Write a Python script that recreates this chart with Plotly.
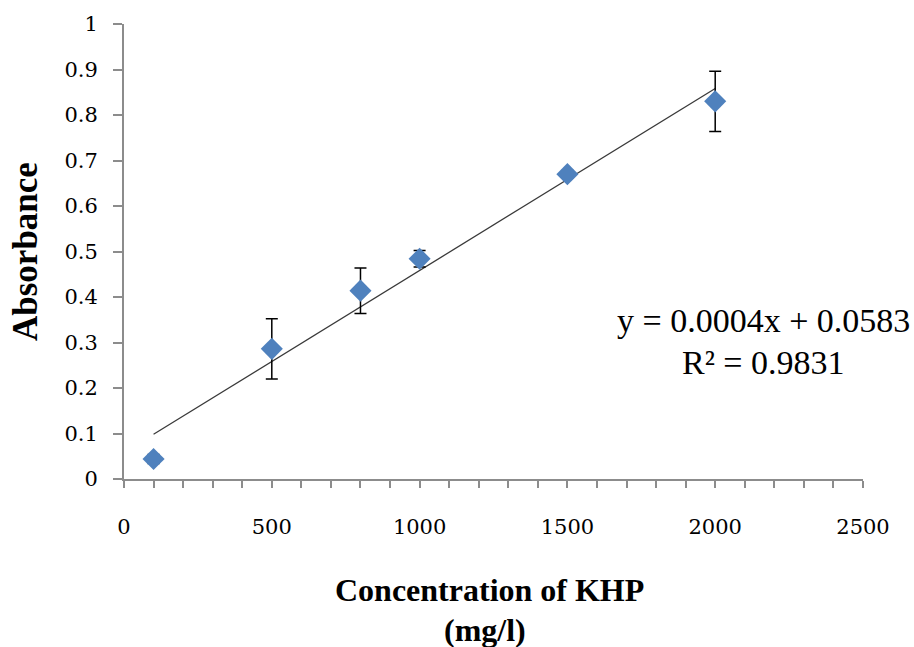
import plotly.graph_objects as go

# Data
concentration = [100, 500, 800, 1000, 1500, 2000]
absorbance = [0.044, 0.286, 0.414, 0.484, 0.670, 0.830]
abs_error = [0.010, 0.066, 0.050, 0.018, 0.008, 0.066]

# Trendline (as displayed)
slope = 0.0004
intercept = 0.0583
trend_x = [100, 2000]
trend_y = [slope * x + intercept for x in trend_x]

x_tick_vals = list(range(0, 2501, 100))
x_tick_text = [str(v) if v % 500 == 0 else "" for v in x_tick_vals]
y_tick_vals = [0, 0.1, 0.2, 0.3, 0.4, 0.5, 0.6, 0.7, 0.8, 0.9, 1]
y_tick_text = ["0", "0.1", "0.2", "0.3", "0.4", "0.5", "0.6", "0.7", "0.8", "0.9", "1"]

eq_text = "y = 0.0004x + 0.0583"
r2_text = "R² = 0.9831"

fig = go.Figure()
fig.add_trace(go.Scatter(
    x=trend_x, y=trend_y, mode="lines",
    line=dict(color="#3a3a3a", width=1.3),
    showlegend=False, hoverinfo="skip"))
fig.add_trace(go.Scatter(
    x=concentration, y=absorbance, mode="markers",
    marker=dict(symbol="diamond", size=17, color="#4F81BD"),
    error_y=dict(type="data", array=abs_error, visible=True,
                 color="black", thickness=1.5, width=6),
    showlegend=False))

axis_font = dict(family="DejaVu Serif", size=21, color="black")
fig.update_layout(
    width=914, height=647,
    margin=dict(l=124, r=51, t=24, b=168),
    paper_bgcolor="white", plot_bgcolor="white",
    xaxis=dict(range=[0, 2500], tickmode="array", tickvals=x_tick_vals,
               ticktext=x_tick_text, showgrid=False, zeroline=False,
               showline=True, linecolor="#8c8c8c", linewidth=2,
               ticks="outside", ticklen=7, tickcolor="#8c8c8c", tickwidth=1.5,
               tickfont=axis_font, ticklabelstandoff=21),
    yaxis=dict(range=[0, 1], tickmode="array", tickvals=y_tick_vals,
               ticktext=y_tick_text, showgrid=False, zeroline=False,
               showline=True, linecolor="#8c8c8c", linewidth=2,
               ticks="outside", ticklen=9, tickcolor="#8c8c8c", tickwidth=1.5,
               tickfont=axis_font, ticklabelstandoff=11),
    annotations=[
        dict(text=eq_text, xref="paper", yref="paper", x=0.865, y=0.349,
             showarrow=False, xanchor="center", yanchor="middle",
             font=dict(family="Liberation Serif", size=34, color="black")),
        dict(text=r2_text, xref="paper", yref="paper", x=0.865, y=0.257,
             showarrow=False, xanchor="center", yanchor="middle",
             font=dict(family="Liberation Serif", size=34, color="black")),
        dict(text="<b>Concentration of KHP</b>", xref="paper", yref="paper",
             x=(489 - 124) / 739, y=-(590 - 479) / 455,
             showarrow=False, xanchor="center", yanchor="middle",
             font=dict(family="Liberation Serif", size=32, color="black")),
        dict(text="<b>(mg/l)</b>", xref="paper", yref="paper",
             x=(485 - 124) / 739, y=-(630 - 479) / 455,
             showarrow=False, xanchor="center", yanchor="middle",
             font=dict(family="Liberation Serif", size=32, color="black")),
        dict(text="<b>Absorbance</b>", xref="paper", yref="paper",
             x=-(124 - 25) / 739, y=(479 - 252) / 455, textangle=-90,
             showarrow=False, xanchor="center", yanchor="middle",
             font=dict(family="Liberation Serif", size=35, color="black")),
    ],
)

fig.write_html("out.html", config={"displayModeBar": False},
               post_script="document.body.style.margin='0';document.body.style.overflow='hidden';")
